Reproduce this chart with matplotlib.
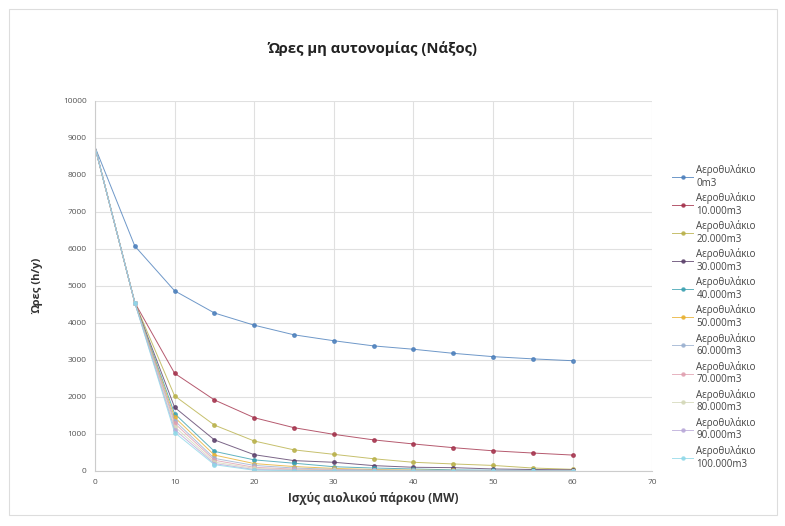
import matplotlib
matplotlib.use("Agg")
import matplotlib.pyplot as plt
from matplotlib.patches import Rectangle

plt.rcParams['font.family'] = ['Open Sans', 'DejaVu Sans']

# Wind park capacity (MW)
capacity = [0, 5, 10, 15, 20, 25, 30, 35, 40, 45, 50, 55, 60]

# Hours without autonomy (h/y) for each air-reservoir volume
h_0 = [8760, 6080, 4870, 4270, 3940, 3680, 3520, 3380, 3290, 3180, 3090, 3030, 2980]
h_10k = [8760, 4550, 2640, 1920, 1440, 1170, 990, 840, 730, 630, 545, 485, 430]
h_20k = [8760, 4550, 2030, 1240, 810, 570, 450, 330, 235, 190, 150, 80, 45]
h_30k = [8760, 4550, 1720, 840, 440, 280, 235, 145, 100, 90, 55, 40, 30]
h_40k = [8760, 4550, 1550, 530, 300, 210, 115, 80, 55, 30, 20, 15, 10]
h_50k = [8760, 4550, 1450, 430, 200, 120, 70, 40, 25, 15, 10, 5, 0]
h_60k = [8760, 4550, 1360, 340, 150, 80, 45, 25, 15, 10, 5, 0, 0]
h_70k = [8760, 4550, 1290, 290, 100, 50, 30, 15, 10, 5, 0, 0, 0]
h_80k = [8760, 4550, 1200, 240, 70, 35, 20, 10, 5, 0, 0, 0, 0]
h_90k = [8760, 4550, 1120, 200, 40, 20, 10, 5, 0, 0, 0, 0, 0]
h_100k = [8760, 4550, 1040, 170, 20, 10, 5, 0, 0, 0, 0, 0, 0]

series_labels = ["Αεροθυλάκιο\n0m3", "Αεροθυλάκιο\n10.000m3", "Αεροθυλάκιο\n20.000m3",
                 "Αεροθυλάκιο\n30.000m3", "Αεροθυλάκιο\n40.000m3", "Αεροθυλάκιο\n50.000m3",
                 "Αεροθυλάκιο\n60.000m3", "Αεροθυλάκιο\n70.000m3", "Αεροθυλάκιο\n80.000m3",
                 "Αεροθυλάκιο\n90.000m3", "Αεροθυλάκιο\n100.000m3"]
series_values = [h_0, h_10k, h_20k, h_30k, h_40k, h_50k, h_60k, h_70k, h_80k, h_90k, h_100k]

colors = ['#4a7ebb', '#a3304a', '#b8b048', '#5a3f6a', '#3aa0b0', '#e8b030',
          '#9ab0d0', '#e0a0b0', '#d4d8b8', '#b8a8d8', '#8fd8e8']

x_ticks = [0, 10, 20, 30, 40, 50, 60, 70]
y_ticks = [0, 1000, 2000, 3000, 4000, 5000, 6000, 7000, 8000, 9000, 10000]

fig = plt.figure(figsize=(7.85, 5.26), dpi=100)
fig.patch.set_facecolor('white')

# chart-area frame
fig.patches.append(Rectangle((0.012, 0.02), 0.978, 0.962, transform=fig.transFigure,
                             fill=False, edgecolor='#dddddd', linewidth=0.8))

ax = fig.add_axes([0.121, 0.1046, 0.710, 0.7034])

for vals, col, lab in zip(series_values, colors, series_labels):
    ax.plot(capacity, vals, color=col, linewidth=0.7, marker='o', markersize=2.5,
            markevery=list(range(1, len(capacity))), label=lab, alpha=0.8)

ax.set_xlim(0, 70)
ax.set_ylim(0, 10000)
ax.set_xticks(x_ticks)
ax.set_yticks(y_ticks)
ax.set_xticklabels([str(t) for t in x_ticks])
ax.set_yticklabels([str(t) for t in y_ticks])
ax.tick_params(axis='both', labelsize=6, colors='#555555', length=0, pad=6)
ax.grid(True, color='#e0e0e0', linewidth=0.8)
ax.set_axisbelow(True)
for side in ['top', 'right']:
    ax.spines[side].set_visible(False)
for side in ['left', 'bottom']:
    ax.spines[side].set_color('#cccccc')
    ax.spines[side].set_linewidth(0.8)

ax.set_xlabel("Ισχύς αιολικού πάρκου (MW)", fontsize=8.5, fontweight='bold',
              color='#333333', labelpad=4)
ax.set_ylabel("Ώρες (h/y)", fontsize=8, fontweight='bold', color='#333333', labelpad=14)

fig.text(0.474, 0.908, "Ώρες μη αυτονομίας (Νάξος)", ha='center', va='center',
         fontsize=10.7, fontweight='bold', color='#222222')

fig.legend(loc='upper left', bbox_to_anchor=(0.845, 0.705), frameon=False,
           fontsize=7, labelcolor='#444444', handlelength=2.2, handletextpad=0.3,
           labelspacing=0.36, markerscale=0.9)

fig.savefig("out.png", dpi=100)
